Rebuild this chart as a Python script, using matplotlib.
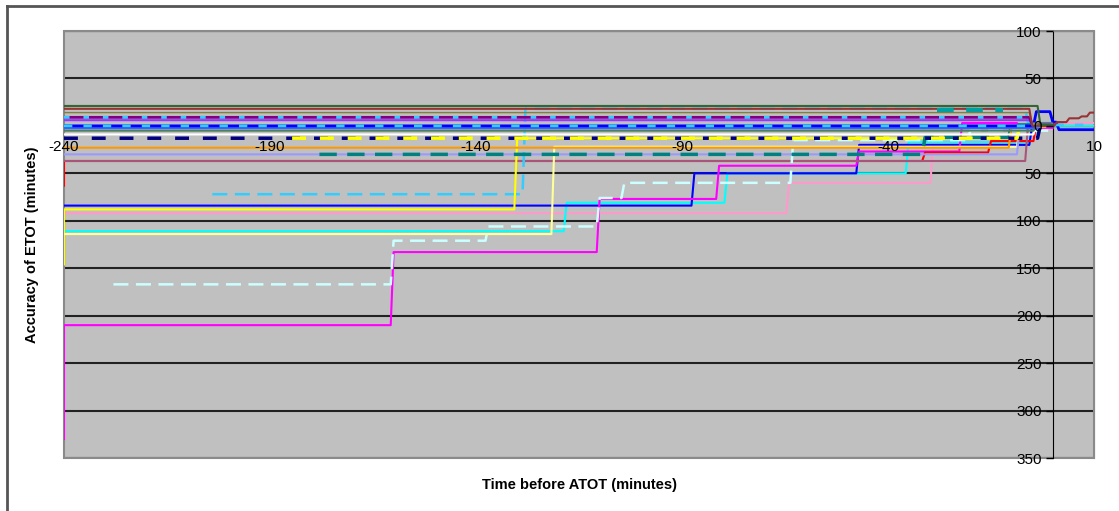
import numpy as np
import matplotlib.pyplot as plt
from matplotlib.lines import Line2D
from matplotlib.patches import Rectangle

plt.rcParams['font.family'] = ['Liberation Sans', 'DejaVu Sans']

# step series: t = times where each level starts (last entry = end time), v = levels
pink_t = [-240, -64, -29, -4, 10]
pink_v = [-92, -60, -16, 3]
cyan_t = [-240, -118, -79, -35, -5, 10]
cyan_v = [-111, -81, -50, -17, 0]
blue_t = [-240, -87, -47, -5, 0]
blue_v = [-84, -50, -20, 1]
magenta_t = [-240, -240, -160, -110, -81, -47, -22, -8, 0]
magenta_v = [-330, -210, -133, -77, -42, -27, 3, -2]
red_t = [-240, -240, -31, -15, -4, 0]
red_v = [-63, -37, -28, -16, 2]
mauve_t = [-240, -6, 0]
mauve_v = [-37, 1]
lcyan_dash_t = [-228, -160, -137, -110, -104, -63, -20, 0]
lcyan_dash_v = [-167, -121, -106, -76, -60, -15, -5]
cyan_dash_t = [-204, -128, -6, 0]
cyan_dash_v = [-72, 18, 3]
yellow_t = [-240, -240, -130, -8, 0]
yellow_v = [-146, -88, -13, 0]
pyellow_t = [-240, -121, -8, 0]
pyellow_v = [-114, -22, 0]
lavender_t = [-240, -8, 0]
lavender_v = [-30, 1]
teal_dash_t = [-178, -31, -10, 0]
teal_dash_v = [-30, -12, 1]
orange_t = [-240, -10, 0]
orange_v = [-23, 0]
navy_dash_t = [-240, -3, 0]
navy_dash_v = [-13, 1]
yellow_dash_t = [-188, -8, 0]
yellow_dash_v = [-13, 0]
white_t = [-240, -4, 0]
white_v = [-9, 0]
graygreen_t = [-240, -4, 0]
graygreen_v = [-5, 0]
blue2_t = [-240, -3, 0]
blue2_v = [-2, 1]
bluemain_t = [-240, -4, 0, 1.5, 10]
bluemain_v = [0, 15, 4, -4]
cyan_dash2_t = [-240, -2, 10]
cyan_dash2_v = [0, 1]
violet_t = [-240, -5, 0]
violet_v = [6, 2]
purple_t = [-240, -5, 0]
purple_v = [9, 2]
cyan_dash3_t = [-240, -5, 0]
cyan_dash3_v = [9, 2]
olive_t = [-240, -5, 0]
olive_v = [14, 2]
darkred_t = [-240, -5, 1, 4, 7, 9, 10]
darkred_v = [18, 0, 4, 8, 10, 14]
darkgreen_t = [-240, -3, 0]
darkgreen_v = [21, 1]
tealtop_t = [-28, -12]
tealtop_v = [17]

x_ticks = [-240, -190, -140, -90, -40, 10]
y_ticks = [100, 50, 0, -50, -100, -150, -200, -250, -300, -350]


def step_path(t, v, ramp=0.7):
    xs, ys = [t[0]], [v[0]]
    for i in range(1, len(v)):
        xs += [max(t[i] - ramp, t[i - 1]), t[i]]
        ys += [v[i - 1], v[i]]
    xs.append(t[-1])
    ys.append(v[-1])
    return xs, ys


# drawing order, colour, width, dash pattern (offset, on, off)
series = [
    (pink_t, pink_v, '#FF99CC', 1.5, None),
    (cyan_t, cyan_v, '#00FFFF', 1.5, None),
    (blue_t, blue_v, '#0000FF', 1.5, None),
    (magenta_t, magenta_v, '#FF00FF', 1.5, None),
    (red_t, red_v, '#FF0000', 1.5, None),
    (mauve_t, mauve_v, '#A8557A', 1.5, None),
    (lcyan_dash_t, lcyan_dash_v, '#CCFFFF', 1.8, (0, 6, 3)),
    (cyan_dash_t, cyan_dash_v, '#33CCFF', 1.8, (0, 6, 3)),
    (yellow_t, yellow_v, '#FFFF00', 1.5, None),
    (pyellow_t, pyellow_v, '#FFFF99', 1.5, None),
    (lavender_t, lavender_v, '#9999FF', 1.5, None),
    (teal_dash_t, teal_dash_v, '#008080', 2.5, (0, 5, 3)),
    (orange_t, orange_v, '#FF9900', 1.5, None),
    (navy_dash_t, navy_dash_v, '#000080', 2.5, (0, 4, 4)),
    (yellow_dash_t, yellow_dash_v, '#FFFF00', 2.5, (4, 4, 4)),
    (white_t, white_v, '#FFFFFF', 1.5, None),
    (graygreen_t, graygreen_v, '#4D7F5A', 1.5, None),
    (blue2_t, blue2_v, '#3366FF', 2.0, None),
    (bluemain_t, bluemain_v, '#0000FF', 2.0, None),
    (cyan_dash2_t, cyan_dash2_v, '#33CCFF', 2.0, (0, 3, 4)),
    (violet_t, violet_v, '#9933FF', 1.5, None),
    (purple_t, purple_v, '#800080', 2.0, None),
    (cyan_dash3_t, cyan_dash3_v, '#33CCFF', 2.0, (0, 2, 5)),
    (olive_t, olive_v, '#808040', 1.0, None),
    (darkred_t, darkred_v, '#993333', 1.5, None),
    (darkgreen_t, darkgreen_v, '#336633', 1.5, None),
    (tealtop_t, tealtop_v, '#00A0A0', 3.0, (0, 4, 3)),
]

fig = plt.figure(figsize=(11.19, 5.11), dpi=100)
ax = fig.add_axes([64 / 1119, 53 / 511, 1030 / 1119, 427 / 511])
ax.set_facecolor('#C0C0C0')

# horizontal gridlines under the series
for y in y_ticks:
    ax.axhline(y, color='#222222', lw=1.5, zorder=1)

for t, v, col, lw, dash in series:
    xs, ys = step_path(t, v)
    ls = '-' if dash is None else (dash[0], dash[1:])
    ax.plot(xs, ys, color=col, lw=lw, ls=ls, zorder=3)

ax.set_xlim(-240, 10)
ax.set_ylim(-350, 100)
ax.set_xticks(x_ticks)
ax.set_xticklabels([str(x) for x in x_ticks])
ax.set_yticks(y_ticks)
ax.set_yticklabels([str(abs(y)) for y in y_ticks])

ax.spines['left'].set_position(('data', 0))
ax.spines['bottom'].set_position(('data', 0))
ax.spines['left'].set_color('black')
ax.spines['bottom'].set_color('black')
ax.spines['left'].set_zorder(2)
ax.spines['bottom'].set_zorder(2)
for s in ['top', 'right']:
    ax.spines[s].set_color('#8A8A8A')
ax.add_patch(Rectangle((0, 0), 1, 1, transform=ax.transAxes, fill=False,
                       ec='#8A8A8A', lw=1.5, clip_on=False, zorder=1))

# tick labels sit on top of the series
ax.xaxis.set_zorder(5)
ax.yaxis.set_zorder(5)
ax.tick_params(axis='y', direction='out', length=5, width=1, pad=3,
               labelsize=11, colors='black')
ax.tick_params(axis='x', length=0, pad=10, labelsize=11)

fig.text(32 / 1119, 1 - 245 / 511, 'Accuracy of ETOT (minutes)', rotation=90,
         ha='center', va='center', fontsize=10.5, fontweight='bold')
fig.text(580 / 1119, 1 - 485 / 511, 'Time before ATOT (minutes)',
         ha='center', va='center', fontsize=10.5, fontweight='bold')

# chart area frame (left and top edges)
fig.add_artist(Line2D([7 / 1119, 7 / 1119], [0, 1 - 6 / 511], color='#555555', lw=2))
fig.add_artist(Line2D([7 / 1119, 1], [1 - 6 / 511, 1 - 6 / 511], color='#555555', lw=2))

fig.savefig('out.png', dpi=100)
